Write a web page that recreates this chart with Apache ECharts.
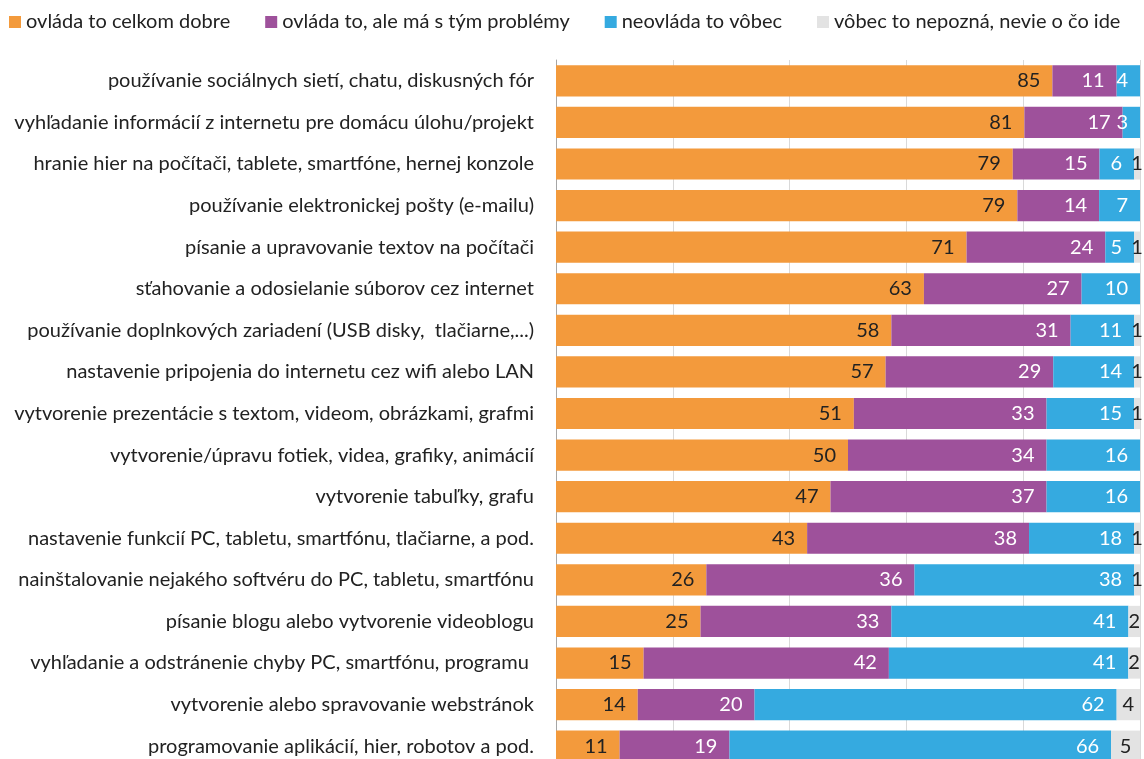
<!DOCTYPE html>
<html>
<head>
<meta charset="utf-8">
<script src="https://cdn.jsdelivr.net/npm/echarts@6/dist/echarts.min.js"></script>
<style>
  html, body { margin: 0; padding: 0; background: #fff; }
  #chart { width: 1144px; height: 759px; }
</style>
</head>
<body>
<div id="chart"></div>
<script>
// kategórie (zhora nadol)
const categories = [
  "používanie sociálnych sietí, chatu, diskusných fór",
  "vyhľadanie informácií z internetu pre domácu úlohu/projekt",
  "hranie hier na počítači, tablete, smartfóne, hernej konzole",
  "používanie elektronickej pošty (e-mailu)",
  "písanie a upravovanie textov na počítači",
  "sťahovanie a odosielanie súborov cez internet",
  "používanie doplnkových zariadení (USB disky,  tlačiarne,...)",
  "nastavenie pripojenia do internetu cez wifi alebo LAN",
  "vytvorenie prezentácie s textom, videom, obrázkami, grafmi",
  "vytvorenie/úpravu fotiek, videa, grafiky, animácií",
  "vytvorenie tabuľky, grafu",
  "nastavenie funkcií PC, tabletu, smartfónu, tlačiarne, a pod.",
  "nainštalovanie nejakého softvéru do PC, tabletu, smartfónu",
  "písanie blogu alebo vytvorenie videoblogu",
  "vyhľadanie a odstránenie chyby PC, smartfónu, programu ",
  "vytvorenie alebo spravovanie webstránok",
  "programovanie aplikácií, hier, robotov a pod."
];

const seriesNames = [
  "ovláda to celkom dobre",
  "ovláda to, ale má s tým problémy",
  "neovláda to vôbec",
  "vôbec to nepozná, nevie o čo ide"
];

const celkomDobre = [85, 81, 79, 79, 71, 63, 58, 57, 51, 50, 47, 43, 26, 25, 15, 14, 11];
const sProblemami = [11, 17, 15, 14, 24, 27, 31, 29, 33, 34, 37, 38, 36, 33, 42, 20, 19];
const neovlada    = [4, 3, 6, 7, 5, 10, 11, 14, 15, 16, 16, 18, 38, 41, 41, 62, 66];
const nepozna     = [0, 0, 1, 0, 1, 0, 1, 1, 1, 0, 0, 1, 1, 2, 2, 4, 5];

const raw = [celkomDobre, sProblemami, neovlada, nepozna];
const colors = ["#F39A3C", "#9E519B", "#35AAE0", "#E3E3E3"];
const labelColors = ["#222", "#fff", "#fff", "#222"];

// 100 % skladaný graf: každý riadok sa prepočíta na súčet
const rowSums = categories.map((_, i) => raw.reduce((s, arr) => s + arr[i], 0));

const FONT = "Lato";

const chart = echarts.init(document.getElementById("chart"));

chart.setOption({
  animation: false,
  textStyle: { fontFamily: FONT },
  legend: {
    left: 4,
    top: 7,
    itemWidth: 12,
    itemHeight: 12,
    itemGap: 35,
    itemTextGap: 6,
    icon: "rect",
    textStyle: { fontSize: 20, color: "#222", fontFamily: FONT },
    data: seriesNames
  },
  grid: {
    left: 556,
    right: 4,
    top: 60,
    height: 707,
    outerBoundsMode: "none"
  },
  xAxis: {
    type: "value",
    min: 0,
    max: 100,
    interval: 20,
    axisLabel: { show: false },
    axisLine: { show: false },
    axisTick: { show: false },
    splitLine: { lineStyle: { color: "#D9D9D9", width: 1 } }
  },
  yAxis: {
    type: "category",
    inverse: true,
    data: categories,
    axisLine: { lineStyle: { color: "#A6A6A6" } },
    axisTick: { length: 6, lineStyle: { color: "#A6A6A6" } },
    axisLabel: { fontSize: 20, color: "#222", margin: 22, fontFamily: FONT }
  },
  series: raw.map((arr, s) => ({
    name: seriesNames[s],
    type: "bar",
    stack: "total",
    barCategoryGap: "25%",
    itemStyle: { color: colors[s] },
    label: {
      show: true,
      position: s === 3 ? "inside" : "insideRight",
      distance: 12,
      color: labelColors[s],
      fontSize: 20,
      fontFamily: FONT,
      formatter: p => (arr[p.dataIndex] ? String(arr[p.dataIndex]) : "")
    },
    data: arr.map((v, i) => (v / rowSums[i]) * 100)
  }))
});
</script>
</body>
</html>
